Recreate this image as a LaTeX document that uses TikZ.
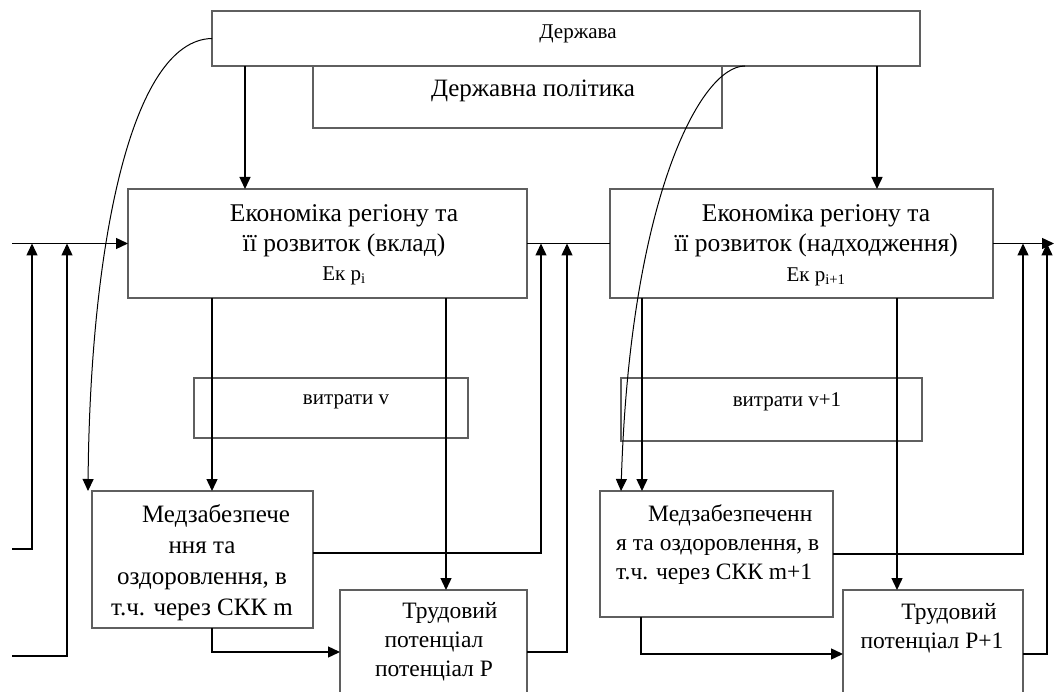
\documentclass[tikz,border=0pt]{standalone}
\usepackage{fontspec}
\setmainfont{Liberation Serif}
\usetikzlibrary{arrows.meta,fit}
\definecolor{boxgray}{RGB}{95,95,95}
\tikzset{
 box/.style={draw=boxgray, line width=1.4pt, inner sep=0pt, outer sep=0pt},
 arr/.style={draw=black, line width=1.4pt, -{Triangle[length=12pt,width=11pt]}},
 ln/.style={draw=black, line width=1.4pt},
 crv/.style={draw=black, line width=1pt, -{Triangle[length=12pt,width=11pt]}},
 txt/.style={inner sep=0pt, align=center, text=black},
 tbig/.style={font=\fontsize{25.5}{30}\selectfont},
 tpol/.style={font=\fontsize{25}{30}\selectfont},
 tmed/.style={font=\fontsize{25}{31}\selectfont},
 tmedb/.style={font=\fontsize{23.5}{29}\selectfont},
 ttr/.style={font=\fontsize{23.5}{29}\selectfont},
 tsmall/.style={font=\fontsize{21}{24}\selectfont},
}
\begin{document}
\begin{tikzpicture}[x=1pt,y=-1pt]
\useasboundingbox (0,0) rectangle (1054,692);
\clip (0,0) rectangle (1054,692);
\fill[white] (0,0) rectangle (1054,692);

% boxes
\node[box, fit={(212,11) (920,66)}] (dz) {};
\node[box, fit={(313,66) (722,128)}] (dp) {};
\node[box, fit={(128,189) (527,298)}] (ek1) {};
\node[box, fit={(610,189) (993,298)}] (ek2) {};
\node[box, fit={(194,378) (468,438)}] (vv1) {};
\node[box, fit={(621,378) (922,441)}] (vv2) {};
\node[box, fit={(92,491) (313,628)}] (md1) {};
\node[box, fit={(600,491) (833,617)}] (md2) {};
\node[box, fit={(340,590) (527,714)}] (tr1) {};
\node[box, fit={(843,590) (1023,718)}] (tr2) {};

% texts
\node[txt, tsmall] (dzt) at (578,34) {Держава};
\node[txt, tpol] (dpt) at (533,91) {Державна політика};
\node[txt, tbig] (ek1t) at (344,231) {Економіка регіону та\\її розвиток (вклад)};
\node[txt, tsmall] (ek1s) at (344,276) {Ек p\textsubscript{i}};
\node[txt, tbig] (ek2t) at (816,231) {Економіка регіону та\\її розвиток (надходження)};
\node[txt, tsmall] (ek2s) at (816,277) {Ек p\textsubscript{i+1}};
\node[txt, tsmall] (vv1t) at (346,402) {витрати v};
\node[txt, tsmall] (vv2t) at (787,402) {витрати v+1};
\node[txt, tmed] (md1t) at (202,563) {\hspace*{28pt}Медзабезпече\\ння та\\оздоровлення, в\\т.ч. через СКК m};
\node[txt, tmedb, align=left, anchor=west] (md2t) at (616,545) {\hspace*{32pt}Медзабезпеченн\\я та оздоровлення, в\\т.ч. через СКК m+1};
\node[txt, ttr] (tr1t) at (434,642) {\hspace*{32pt}Трудовий\\потенціал\\потенціал P};
\node[txt, ttr] (tr2t) at (932,628) {\hspace*{34pt}Трудовий\\потенціал P+1};

% helper coordinates
\coordinate (x245) at (245,0);
\coordinate (x877) at (877,0);
\coordinate (x212) at (212,0);
\coordinate (x446) at (446,0);
\coordinate (x642) at (642,0);
\coordinate (x897) at (897,0);
\coordinate (c2x) at (745,0);
\coordinate (c1e) at (88,491);
\coordinate (c2e) at (621,0);
\coordinate (y553) at (0,553);
\coordinate (j1) at (541,243.5);
\coordinate (j2) at (567,243.5);
\coordinate (j3) at (1023,243.5);
\coordinate (j4) at (1047,243.5);
\coordinate (l0) at (12,243.5);
\coordinate (l1) at (12,549);
\coordinate (l2) at (12,656);
\coordinate (in1) at (32,243.5);
\coordinate (in2) at (67,243.5);
\coordinate (out) at (1054,243.5);
\coordinate (x641) at (641,0);

% connectors from the state
\draw[arr] (dz.south -| x245) -- (ek1.north -| x245);
\draw[arr] (dz.south -| x877) -- (ek2.north -| x877);
\draw[crv] (dz.west) .. controls (130,40) and (90,250) .. (c1e);
\draw[crv] (dz.south -| c2x) .. controls (700,66) and (630,200) .. (md2.north -| c2e);

% main horizontal flow
\draw[arr] (l0) -- (ek1.west);
\draw[ln] (ek1.east) -- (ek2.west);
\draw[arr] (ek2.east) -- (out);
\draw[arr] (l1) -| (in1);
\draw[arr] (l2) -| (in2);

% downward flows
\draw[arr] (ek1.south -| x212) -- (md1.north -| x212);
\draw[arr] (ek1.south -| x446) -- (tr1.north -| x446);
\draw[arr] (ek2.south -| x642) -- (md2.north -| x642);
\draw[arr] (ek2.south -| x897) -- (tr2.north -| x897);

% feedback flows
\draw[arr] (md1.east |- y553) -| (j1);
\draw[arr] (tr1.east) -| (j2);
\draw[arr] (md2.east) -| (j3);
\draw[arr] (tr2.east) -| (j4);

% medical to labour
\draw[arr] (md1.south -| x212) |- (tr1.west);
\draw[arr] (md2.south -| x641) |- (tr2.west);
\end{tikzpicture}
\end{document}
